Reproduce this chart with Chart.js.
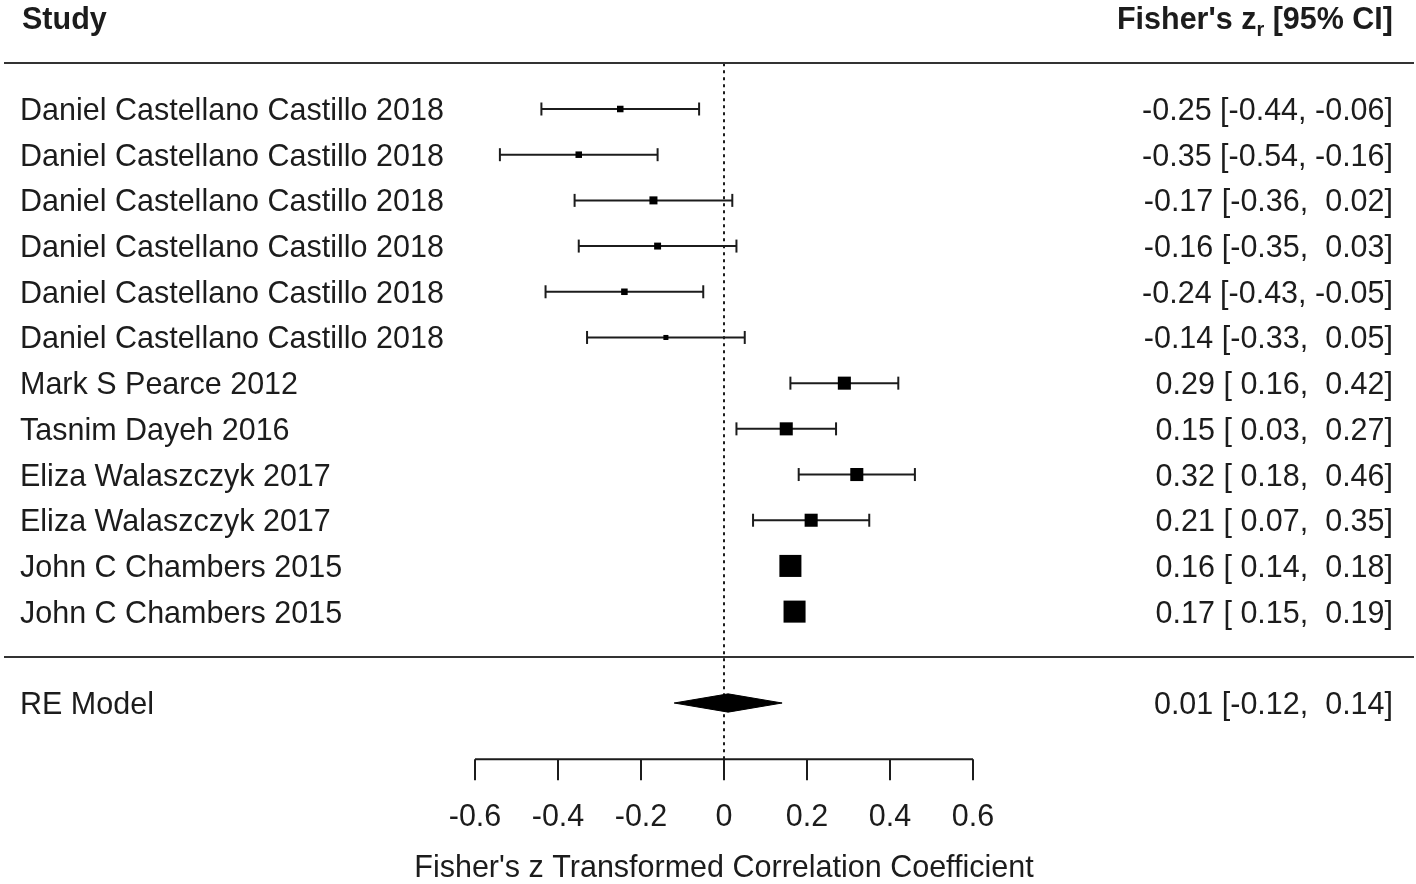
<!DOCTYPE html>
<html>
<head>
<meta charset="utf-8">
<title>Forest plot</title>
<script src="https://cdn.jsdelivr.net/npm/chart.js@4.4.0/dist/chart.umd.min.js"></script>
<style>
  body { margin: 0; background: #fff; }
  #wrap { width: 1416px; height: 884px; }
</style>
</head>
<body>
<div id="wrap"><canvas id="forest"></canvas></div>
<script>
// study data (Fisher's z with 95% CI)
const studies = [
  'Daniel Castellano Castillo 2018',
  'Daniel Castellano Castillo 2018',
  'Daniel Castellano Castillo 2018',
  'Daniel Castellano Castillo 2018',
  'Daniel Castellano Castillo 2018',
  'Daniel Castellano Castillo 2018',
  'Mark S Pearce 2012',
  'Tasnim Dayeh 2016',
  'Eliza Walaszczyk 2017',
  'Eliza Walaszczyk 2017',
  'John C Chambers 2015',
  'John C Chambers 2015'
];
const estimates = [-0.25, -0.35, -0.17, -0.16, -0.24, -0.14, 0.29, 0.15, 0.32, 0.21, 0.16, 0.17];
const lower     = [-0.44, -0.54, -0.36, -0.35, -0.43, -0.33, 0.16, 0.03, 0.18, 0.07, 0.14, 0.15];
const upper     = [-0.06, -0.16,  0.02,  0.03, -0.05,  0.05, 0.42, 0.27, 0.46, 0.35, 0.18, 0.19];
// approx. weights (%) read from the square sizes
const weights   = [4.8, 4.8, 5.9, 5.1, 4.8, 3.7, 9.6, 9.6, 9.6, 9.6, 16.2, 16.2];

const summaryLabel = 'RE Model';
const summaryEst = 0.01;
const summaryLo = -0.12;
const summaryHi = 0.14;

const xTicks = [-0.6, -0.4, -0.2, 0, 0.2, 0.4, 0.6];
const xTitle = "Fisher's z Transformed Correlation Coefficient";

// layout in row units (row 0 = top study)
const summaryRow = 13;
const headerRow = -2;
const headerLineRow = -1;
const sepRow = 12;
const axisRow = 14.23;

const ink = '#1c1c1c';
const font = "'Liberation Sans', Arial, sans-serif";
const fs = 30.5;

function fmt(v) { return v.toFixed(2); }
const estW = Math.max(...estimates.concat(summaryEst).map(v => fmt(v).length));
const loW = Math.max(...lower.concat(summaryLo).map(v => fmt(v).length));
const hiW = Math.max(...upper.concat(summaryHi).map(v => fmt(v).length));
function ciText(e, l, h) {
  return fmt(e).padStart(estW) + ' [' + fmt(l).padStart(loW) + ', ' + fmt(h).padStart(hiW) + ']';
}

const datasets = [];

// dotted reference line at 0
datasets.push({
  order: 3,
  data: [{x: 0, y: headerLineRow}, {x: 0, y: axisRow}],
  showLine: true,
  borderColor: ink,
  borderWidth: 2,
  borderDash: [3, 4],
  pointRadius: 0
});

// CI lines with end caps
studies.forEach(function (s, i) {
  datasets.push({
    order: 2,
    data: [{x: lower[i], y: i}, {x: upper[i], y: i}],
    showLine: true,
    borderColor: ink,
    borderWidth: 2,
    pointStyle: 'line',
    rotation: 90,
    pointRadius: 6.5,
    pointBorderWidth: 2,
    pointBorderColor: ink
  });
});

// squares sized by weight
datasets.push({
  order: 1,
  data: estimates.map(function (e, i) { return {x: e, y: i}; }),
  pointStyle: 'rect',
  pointRadius: weights.map(function (w) { return w * 1.36 / Math.SQRT2; }),
  pointBackgroundColor: '#000',
  pointBorderWidth: 0
});

// summary diamond
const dh = 0.2;
datasets.push({
  order: 1,
  data: [
    {x: summaryLo, y: summaryRow},
    {x: summaryEst, y: summaryRow - dh},
    {x: summaryHi, y: summaryRow},
    {x: summaryEst, y: summaryRow + dh},
    {x: summaryLo, y: summaryRow}
  ],
  showLine: true,
  fill: 'shape',
  backgroundColor: '#000',
  borderColor: '#000',
  borderWidth: 1,
  pointRadius: 0
});

const forestText = {
  id: 'forestText',
  afterDraw(chart) {
    const ctx = chart.ctx;
    const x = chart.scales.x, y = chart.scales.y;
    const W = chart.width;
    ctx.save();

    // horizontal rules
    ctx.strokeStyle = '#333';
    ctx.lineWidth = 2;
    [headerLineRow, sepRow].forEach(function (r) {
      const py = Math.round(y.getPixelForValue(r));
      ctx.beginPath();
      ctx.moveTo(4, py);
      ctx.lineTo(W - 2, py);
      ctx.stroke();
    });

    // x axis
    const ay = y.getPixelForValue(axisRow);
    const x0 = x.getPixelForValue(xTicks[0]);
    const x1 = x.getPixelForValue(xTicks[xTicks.length - 1]);
    ctx.strokeStyle = ink;
    ctx.beginPath();
    ctx.moveTo(x0, ay);
    ctx.lineTo(x1, ay);
    xTicks.forEach(function (t) {
      const px = x.getPixelForValue(t);
      ctx.moveTo(px, ay);
      ctx.lineTo(px, ay + 21);
    });
    ctx.stroke();

    ctx.fillStyle = ink;
    ctx.font = fs + 'px ' + font;
    ctx.textAlign = 'center';
    ctx.textBaseline = 'alphabetic';
    xTicks.forEach(function (t) {
      ctx.fillText(t === 0 ? '0' : String(t), x.getPixelForValue(t), ay + 67);
    });
    ctx.fillText(xTitle, x.getPixelForValue(0), ay + 118);

    // study labels and CI text
    ctx.textAlign = 'left';
    studies.forEach(function (s, i) {
      ctx.fillText(s, 20, y.getPixelForValue(i) + 11);
    });
    ctx.fillText(summaryLabel, 20, y.getPixelForValue(summaryRow) + 11);

    ctx.textAlign = 'right';
    studies.forEach(function (s, i) {
      ctx.fillText(ciText(estimates[i], lower[i], upper[i]), 1393, y.getPixelForValue(i) + 11);
    });
    ctx.fillText(ciText(summaryEst, summaryLo, summaryHi), 1393, y.getPixelForValue(summaryRow) + 11);

    // headers
    const hy = y.getPixelForValue(headerRow) + 11;
    ctx.font = 'bold ' + fs + 'px ' + font;
    ctx.textAlign = 'left';
    ctx.fillText('Study', 22, hy);

    const partA = "Fisher's z", partB = 'r', partC = ' [95% CI]';
    const wA = ctx.measureText(partA).width;
    const wC = ctx.measureText(partC).width;
    ctx.font = 'bold 20px ' + font;
    const wB = ctx.measureText(partB).width;
    let hx = 1393 - wA - wB - wC;
    ctx.font = 'bold ' + fs + 'px ' + font;
    ctx.fillText(partA, hx, hy);
    ctx.font = 'bold 20px ' + font;
    ctx.fillText(partB, hx + wA, hy + 7);
    ctx.font = 'bold ' + fs + 'px ' + font;
    ctx.fillText(partC, hx + wA + wB, hy);

    ctx.restore();
  }
};

// pixel mapping: 0 -> 724px, 0.6 -> 973px ; row 0 -> 109px, row 13 -> 703px
const pxPerUnit = (973 - 724) / 0.6;
const pxPerRow = (703 - 109) / 13;

new Chart(document.getElementById('forest'), {
  type: 'scatter',
  data: { datasets: datasets },
  options: {
    responsive: true,
    maintainAspectRatio: false,
    animation: false,
    events: [],
    layout: { padding: 0, autoPadding: false },
    plugins: { legend: { display: false }, tooltip: { enabled: false } },
    scales: {
      x: { type: 'linear', display: false, min: -724 / pxPerUnit, max: (1416 - 724) / pxPerUnit },
      y: { type: 'linear', display: false, reverse: true, min: -109 / pxPerRow, max: (884 - 109) / pxPerRow }
    }
  },
  plugins: [forestText]
});
</script>
</body>
</html>
